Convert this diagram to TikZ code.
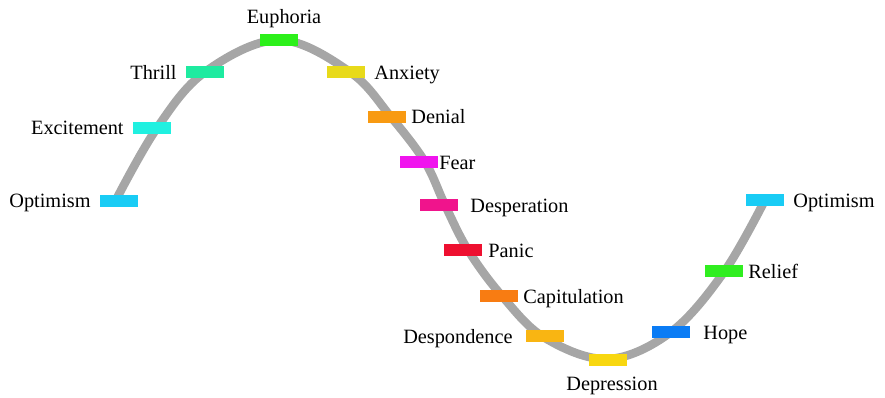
\documentclass[tikz,border=0pt]{standalone}
\usepackage{fontspec}
\setmainfont{Liberation Serif}
\usetikzlibrary{calc}
\definecolor{cOpt}{HTML}{19CCF5}
\definecolor{cExc}{HTML}{20F0E0}
\definecolor{cThr}{HTML}{1EEBA0}
\definecolor{cEup}{HTML}{2CF01A}
\definecolor{cAnx}{HTML}{E8DA1A}
\definecolor{cDen}{HTML}{F89A12}
\definecolor{cFea}{HTML}{F014EE}
\definecolor{cDes}{HTML}{F0148C}
\definecolor{cPan}{HTML}{EE1030}
\definecolor{cCap}{HTML}{F87C12}
\definecolor{cDsp}{HTML}{F9B512}
\definecolor{cDpr}{HTML}{F8D710}
\definecolor{cHop}{HTML}{0A7CF5}
\definecolor{cRel}{HTML}{30EE20}
\definecolor{curvegray}{HTML}{A6A6A6}
\tikzset{
  bar/.style={fill=#1, draw=none, minimum width=38pt, minimum height=12.5pt, inner sep=0pt},
  lbl/.style={inner sep=0pt, font=\fontsize{20.3}{24}\selectfont},
  wave/.style={draw=curvegray, line width=8.5pt}
}
\begin{document}
\begin{tikzpicture}[x=1pt,y=-1pt]
\useasboundingbox (0,0) rectangle (885,398);
% curve
\draw[wave] plot[smooth, tension=0.6] coordinates {(117,198) (157,128) (205,72) (279,40) (350,72) (391,117) (425,162) (445,205) (468,250) (502,296) (545,338) (608,359) (671,332) (724,272) (765,200)};
% bars
\node[bar=cOpt] (b1) at (119,201) {};
\node[bar=cExc] (b2) at (152,128) {};
\node[bar=cThr] (b3) at (205,72) {};
\node[bar=cEup] (b4) at (279,40) {};
\node[bar=cAnx] (b5) at (346,72) {};
\node[bar=cDen] (b6) at (387,117) {};
\node[bar=cFea] (b7) at (419,162) {};
\node[bar=cDes] (b8) at (439,205) {};
\node[bar=cPan] (b9) at (463,250) {};
\node[bar=cCap] (b10) at (499,296) {};
\node[bar=cDsp] (b11) at (545,336) {};
\node[bar=cDpr] (b12) at (608,360) {};
\node[bar=cHop] (b13) at (671,332) {};
\node[bar=cRel] (b14) at (724,271) {};
\node[bar=cOpt] (b15) at (765,200) {};
% labels
\node[lbl, anchor=base east] (t1) at ($(b1.west)+(-9,6.5)$) {Optimism};
\node[lbl, anchor=base east] (t2) at ($(b2.west)+(-9,7)$) {Excitement};
\node[lbl, anchor=base east] (t3) at ($(b3.west)+(-9,8)$) {Thrill};
\node[lbl, anchor=base] (t4) at (284,24) {Euphoria};
\node[lbl, anchor=base west] (t5) at ($(b5.east)+(9,7.5)$) {Anxiety};
\node[lbl, anchor=base west] (t6) at ($(b6.east)+(5,7)$) {Denial};
\node[lbl, anchor=base west] (t7) at ($(b7.east)+(1,7)$) {Fear};
\node[lbl, anchor=base west] (t8) at ($(b8.east)+(12,7)$) {Desperation};
\node[lbl, anchor=base west] (t9) at ($(b9.east)+(6,7)$) {Panic};
\node[lbl, anchor=base west] (t10) at ($(b10.east)+(5,7)$) {Capitulation};
\node[lbl, anchor=base east] (t11) at ($(b11.west)+(-13,7)$) {Despondence};
\node[lbl, anchor=base] (t12) at (612,390) {Depression};
\node[lbl, anchor=base west] (t13) at ($(b13.east)+(13,7)$) {Hope};
\node[lbl, anchor=base west] (t14) at ($(b14.east)+(5,7)$) {Relief};
\node[lbl, anchor=base west] (t15) at ($(b15.east)+(9,7)$) {Optimism};
\end{tikzpicture}
\end{document}
